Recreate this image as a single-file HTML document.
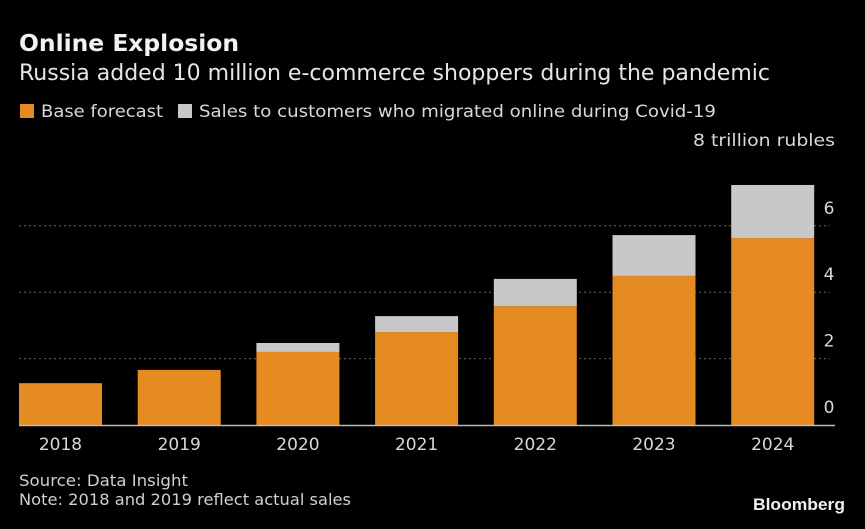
<!DOCTYPE html>
<html><head><meta charset="utf-8"><style>
body{margin:0;background:#000;width:865px;height:525px;overflow:hidden;font-family:"DejaVu Sans","Liberation Sans",sans-serif;color:#e8e8e8}
</style></head><body>
<svg width="865" height="525" font-family="DejaVu Sans, Liberation Sans, sans-serif">
<text x="19" y="51" font-size="23" font-weight="bold" fill="#f2f2f2" textLength="220" lengthAdjust="spacingAndGlyphs">Online Explosion</text>
<text x="19" y="80" font-size="22" fill="#e6e6e6" textLength="751" lengthAdjust="spacingAndGlyphs">Russia added 10 million e-commerce shoppers during the pandemic</text>
<g>
<rect x="20" y="104" width="14" height="14" fill="#e68a22"/>
<text x="41" y="117" font-size="17" fill="#d8d8d8" textLength="122" lengthAdjust="spacingAndGlyphs">Base forecast</text>
<rect x="178" y="104" width="14" height="14" fill="#c8c8c8"/>
<text x="199" y="117" font-size="17" fill="#d8d8d8" textLength="517" lengthAdjust="spacingAndGlyphs">Sales to customers who migrated online during Covid-19</text>
</g>
<text x="835" y="146" font-size="17" fill="#d8d8d8" text-anchor="end" textLength="142" lengthAdjust="spacingAndGlyphs">8 trillion rubles</text>
<g id="grid"></g><g id="bars"></g><g id="axis"></g>
<text x="19" y="486" font-size="16" fill="#d0d0d0" textLength="169" lengthAdjust="spacingAndGlyphs">Source: Data Insight</text>
<text x="19" y="505" font-size="16" fill="#d0d0d0" textLength="332" lengthAdjust="spacingAndGlyphs">Note: 2018 and 2019 reflect actual sales</text>
<text x="845" y="510" font-size="17" font-weight="bold" fill="#f0f0f0" text-anchor="end" textLength="92" lengthAdjust="spacingAndGlyphs" font-family="Liberation Sans, sans-serif">Bloomberg</text>
</svg>
<script>
const years=["2018","2019","2020","2021","2022","2023","2024"];
const baseForecast=[1.26,1.66,2.2,2.8,3.58,4.49,5.63];
const totalSales=[1.26,1.66,2.47,3.28,4.4,5.72,7.23];
const yTicks=[0,2,4,6];
const NS="http://www.w3.org/2000/svg";
const y0=425,pxPerUnit=33.2,x0=19,pitch=118.7,bw=83;
const Y=v=>y0-v*pxPerUnit, X=i=>x0+i*pitch;
function mk(t,a,p){const e=document.createElementNS(NS,t);for(const k in a)e.setAttribute(k,a[k]);p.appendChild(e);return e;}
const grid=document.getElementById('grid'),bars=document.getElementById('bars'),axis=document.getElementById('axis');
yTicks.forEach(v=>{
 if(v>0){const l=mk('line',{x1:19,x2:830,y1:Y(v),y2:Y(v),stroke:'#666','stroke-dasharray':'2,3','stroke-width':1},grid);
 
 }
 const t=mk('text',{x:829,y:Y(v)-12,'font-size':17,fill:'#d8d8d8','text-anchor':'middle'},axis);t.textContent=v;
 
 
});
years.forEach((yr,i)=>{
 const b=mk('rect',{x:X(i),y:Y(baseForecast[i]),width:bw,height:baseForecast[i]*pxPerUnit,fill:'#e68a22'},bars);
 
 
 const d=totalSales[i]-baseForecast[i];
 if(d>0){const c=mk('rect',{x:X(i),y:Y(totalSales[i]),width:bw,height:d*pxPerUnit,fill:'#c8c8c8'},bars);
 
 }
 const t=mk('text',{x:X(i)+bw/2,y:450,'font-size':17,fill:'#d8d8d8','text-anchor':'middle'},axis);t.textContent=yr;
 
 
});
const ax=mk('line',{x1:19,x2:835,y1:y0+0.5,y2:y0+0.5,stroke:'#bbb','stroke-width':1.5},axis);


</script>
</body></html>
